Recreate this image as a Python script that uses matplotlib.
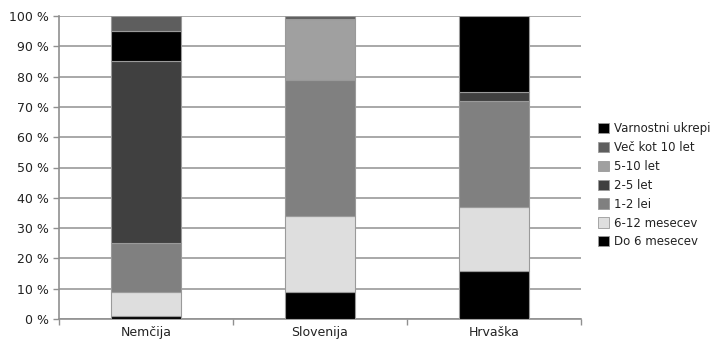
import matplotlib
matplotlib.use("Agg")
import matplotlib.pyplot as plt
import matplotlib.patches as mpatches
import numpy as np

countries = ["Nemčija", "Slovenija", "Hrvaška"]

# share of sentences (%) per length category and country
do_6_mesecev = [1, 9, 16]
mesecev_6_12 = [8, 25, 21]
let_1_2 = [16, 45, 35]
let_2_5 = [60, 0, 3]
let_5_10 = [0, 20, 0]
vec_kot_10_let = [5, 1, 0]
varnostni_ukrepi = [10, 0, 25]

series_names = ["Do 6 mesecev", "6-12 mesecev", "1-2 lei", "2-5 let",
                "5-10 let", "Več kot 10 let", "Varnostni ukrepi"]
series_values = [do_6_mesecev, mesecev_6_12, let_1_2, let_2_5,
                 let_5_10, vec_kot_10_let, varnostni_ukrepi]
colors = ["#000000", "#dedede", "#808080", "#404040",
          "#a0a0a0", "#5e5e5e", "#000000"]

# stacking order of the segments inside each column (bottom to top)
stack_order = {
    "Nemčija": [0, 1, 2, 3, 6, 5, 4],
    "Slovenija": [0, 1, 2, 3, 4, 5, 6],
    "Hrvaška": [0, 1, 2, 3, 4, 5, 6],
}

yticks = list(range(0, 101, 10))
ytick_labels = [f"{v} %" for v in yticks]

plt.rcParams["font.family"] = ["DejaVu Sans"]

fig = plt.figure(figsize=(7.12, 3.4), dpi=100)
ax = fig.add_axes([59 / 712, 1 - 319 / 340, 522 / 712, 303 / 340])

x = np.arange(len(countries))
bar_w = 0.4
for ci, country in enumerate(countries):
    bottom = 0
    for si in stack_order[country]:
        v = series_values[si][ci]
        if v <= 0:
            continue
        ax.bar(x[ci], v, bottom=bottom, width=bar_w, color=colors[si],
               edgecolor="#9a9a9a", linewidth=0.8, zorder=3)
        bottom += v

ax.set_xlim(-0.5, len(countries) - 0.5)
ax.set_ylim(0, 100)
ax.set_yticks(yticks)
ax.set_yticklabels(ytick_labels)
ax.yaxis.grid(True, color="#a8a8a8", linewidth=1.4, zorder=0)
ax.set_axisbelow(True)

# category labels centered, tick marks on category boundaries
ax.set_xticks(x)
ax.set_xticklabels(countries)
ax.tick_params(axis="x", which="major", length=0, pad=5, labelsize=9,
               labelcolor="#222222")
ax.set_xticks(np.arange(len(countries) + 1) - 0.5, minor=True)
ax.tick_params(axis="x", which="minor", length=4, color="#909090", width=1)
ax.tick_params(axis="y", length=4, color="#909090", width=1, pad=3,
               labelsize=9, labelcolor="#222222")

for side in ["top", "right"]:
    ax.spines[side].set_visible(False)
for side in ["left", "bottom"]:
    ax.spines[side].set_color("#909090")
    ax.spines[side].set_linewidth(1.2)

handles = [mpatches.Patch(facecolor=colors[i], edgecolor="#9a9a9a", linewidth=0.6)
           for i in range(len(series_names))][::-1]
labels = series_names[::-1]
fig.legend(handles, labels, loc="upper left", bbox_to_anchor=(598 / 712, 1 - 122 / 340),
           frameon=False, fontsize=8.5, handlelength=0.95, handleheight=0.95,
           handletextpad=0.4, labelspacing=0.5, borderaxespad=0, borderpad=0,
           labelcolor="#222222")

fig.savefig("out.png", dpi=100)
